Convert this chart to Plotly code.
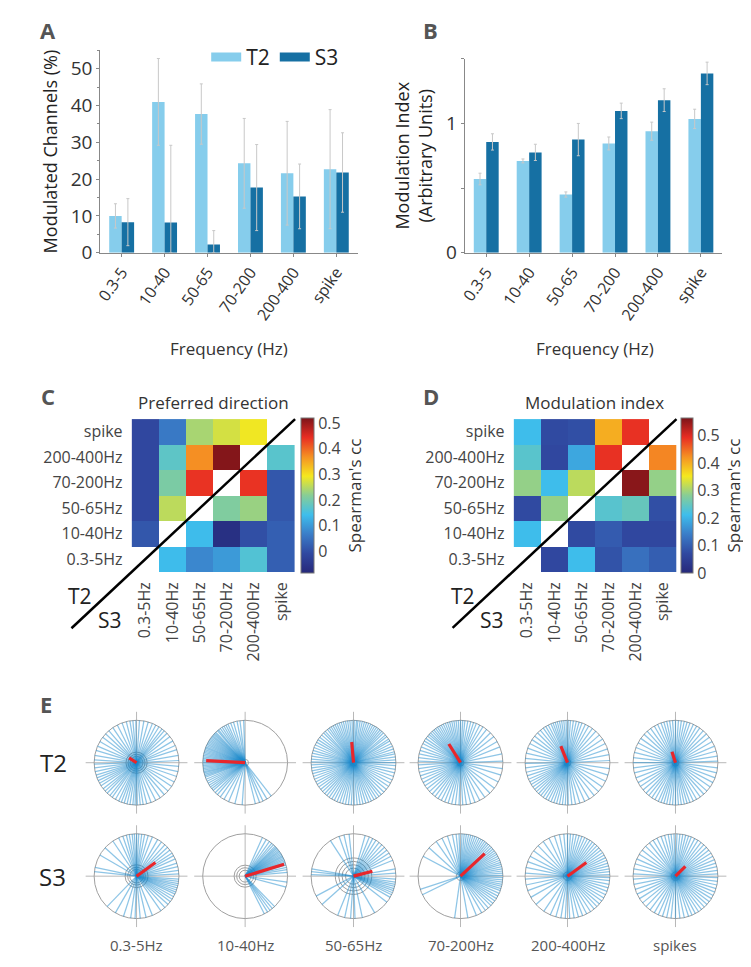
import plotly.graph_objects as go

W, H = 751, 967
def px(x):
    return x / W
def py(y):
    return 1 - y / H

FONT = "Open Sans"
TXT = "#333333"
C_T2 = "#86CDEC"
C_S3 = "#1670A3"
ERR = "#c8c8c8"

# ---------------- data ----------------
freq_labels = ["0.3-5", "10-40", "50-65", "70-200", "200-400", "spike"]

T2_pct = [10.0, 41.0, 37.7, 24.3, 21.6, 22.7]
T2_pct_err = [3.3, 11.8, 8.2, 12.2, 14.1, 16.2]
S3_pct = [8.3, 8.2, 2.2, 17.7, 15.3, 21.8]
S3_pct_err = [6.4, 21.0, 3.8, 11.7, 8.8, 10.8]

T2_mi = [0.57, 0.71, 0.45, 0.845, 0.94, 1.035]
T2_mi_err = [0.045, 0.015, 0.02, 0.05, 0.07, 0.075]
S3_mi = [0.857, 0.776, 0.875, 1.097, 1.18, 1.387]
S3_mi_err = [0.063, 0.063, 0.125, 0.06, 0.088, 0.087]

band_labels = ["0.3-5Hz", "10-40Hz", "50-65Hz", "70-200Hz", "200-400Hz", "spike"]
# rows listed bottom -> top, columns left -> right (None = diagonal)
pd_cc = [
    [None, 0.14, 0.078, 0.10, 0.163, 0.024],
    [0.012, None, 0.14, -0.067, 0.0, 0.024],
    [-0.012, 0.254, None, 0.21, 0.23, 0.012],
    [-0.012, 0.205, 0.44, None, 0.44, 0.012],
    [-0.012, 0.175, 0.37, 0.515, None, 0.17],
    [-0.012, 0.06, 0.24, 0.27, 0.29, None],
]
mi_cc = [
    [None, 0.068, 0.21, 0.085, 0.124, 0.10],
    [0.21, None, 0.073, 0.096, 0.068, 0.068],
    [0.073, 0.29, None, 0.236, 0.25, 0.08],
    [0.29, 0.21, 0.315, None, 0.555, 0.29],
    [0.237, 0.068, 0.186, 0.49, None, 0.43],
    [0.21, 0.073, 0.08, 0.40, 0.49, None],
]

polar_labels = ["0.3-5Hz", "10-40Hz", "50-65Hz", "70-200Hz", "200-400Hz", "spikes"]
# preferred directions of channels (degrees)
T2_angles = [
    [3, 10, 18, 24, 31, 38, 44, 49, 53, 58, 63, 68, 74, 80, 86, 91, 95, 99, 104, 110, 117, 124, 131, 137, 143,
     150, 157, 163, 170, 176, 182, 187, 192, 197, 201, 205, 209, 213, 218, 222, 226, 231, 235, 240, 245, 249,
     253, 257, 261, 265, 268, 271, 275, 279, 284, 290, 297, 304, 311, 318, 326, 333, 341, 348, 355],
    [92, 97, 101, 106, 110, 114, 117, 120, 123, 126, 129, 131, 134, 136, 138, 140, 142, 144, 146, 148, 150, 152,
     154, 156, 158, 160, 162, 164, 166, 168, 170, 172, 174, 176, 178, 180, 182, 184, 186, 188, 190, 192, 194,
     196, 198, 200, 203, 206, 209, 212, 215, 218, 221, 225, 229, 234, 240, 247, 256, 266, 284, 290, 295, 301, 308],
    [0, 4, 8, 12, 15, 19, 23, 27, 31, 34, 38, 41, 45, 48, 51, 54, 57, 60, 63, 66, 69, 72, 75, 78, 81, 84, 86, 89,
     92, 95, 98, 101, 104, 107, 110, 113, 116, 119, 122, 125, 128, 132, 135, 139, 143, 147, 151, 155, 159, 163,
     167, 171, 175, 179, 183, 187, 191, 195, 199, 203, 207, 211, 215, 219, 223, 227, 231, 235, 239, 243, 247,
     251, 255, 259, 263, 267, 271, 275, 279, 283, 287, 291, 295, 299, 303, 307, 311, 316, 321, 326, 331, 336,
     341, 346, 351, 356],
    [2, 12, 22, 30, 38, 45, 52, 58, 63, 68, 72, 76, 80, 84, 87, 90, 93, 96, 99, 102, 105, 108, 111, 114, 117, 120,
     123, 126, 129, 132, 135, 138, 141, 145, 149, 153, 158, 163, 168, 173, 178, 183, 188, 193, 198, 203, 208,
     213, 218, 223, 228, 233, 238, 243, 248, 253, 258, 263, 268, 273, 278, 284, 290, 297, 305, 314, 323, 333, 343, 352],
    [3, 11, 19, 27, 34, 41, 48, 54, 60, 65, 70, 74, 78, 82, 86, 89, 92, 95, 98, 101, 104, 107, 110, 113, 117, 121,
     125, 130, 135, 141, 147, 153, 160, 167, 174, 181, 187, 193, 198, 203, 207, 211, 215, 219, 223, 227, 231,
     235, 239, 243, 247, 251, 255, 259, 263, 267, 271, 276, 281, 287, 294, 301, 309, 317, 325, 334, 343, 352],
    [2, 9, 16, 23, 30, 37, 43, 49, 55, 60, 65, 70, 74, 78, 82, 86, 90, 94, 98, 102, 106, 110, 115, 120, 126, 132,
     138, 145, 152, 159, 166, 173, 180, 187, 194, 201, 208, 214, 220, 226, 231, 236, 241, 246, 250, 254, 258,
     262, 266, 270, 274, 278, 282, 286, 290, 295, 300, 306, 312, 318, 325, 332, 339, 346, 353],
]
S3_angles = [
    [3, 8, 13, 18, 24, 29, 33, 38, 43, 48, 54, 60, 68, 74, 79, 83, 87, 90, 93, 96, 100, 104, 109, 115, 124, 138,
     150, 168, 174, 226, 240, 252, 262, 268, 275, 283, 292, 305, 312, 318, 323, 327, 331, 335, 338, 341, 344,
     347, 350, 353, 356],
    [5, 9, 12, 15, 17, 19, 21, 23, 25, 27, 29, 31, 33, 35, 37, 39, 41, 43, 45, 48, 51, 55, 60, 66, 297, 302, 306,
     310, 314, 345, 352],
    [4, 10, 22, 28, 33, 38, 43, 48, 53, 58, 63, 68, 74, 96, 103, 110, 123, 170, 174, 178, 208, 222, 248, 258, 266,
     272, 282, 300, 322, 330, 334, 337, 340, 343, 346, 349, 352, 356],
    [1, 4, 7, 10, 13, 16, 19, 22, 25, 28, 31, 34, 37, 40, 43, 46, 49, 52, 55, 58, 61, 64, 67, 70, 73, 76, 79, 82,
     85, 88, 92, 96, 101, 108, 116, 125, 138, 152, 198, 206, 262, 280, 292, 300, 306, 311, 316, 320, 324, 328,
     332, 336, 340, 343, 346, 349, 352, 355, 358],
    [2, 6, 10, 14, 18, 22, 26, 30, 34, 38, 42, 46, 50, 54, 58, 62, 66, 70, 74, 78, 82, 86, 90, 95, 101, 108, 116,
     125, 134, 143, 152, 160, 168, 176, 184, 192, 200, 210, 222, 236, 246, 254, 261, 267, 273, 279, 285, 291,
     297, 303, 309, 314, 319, 324, 329, 334, 339, 344, 349, 354, 358],
    [3, 8, 13, 18, 23, 28, 33, 38, 43, 48, 53, 58, 63, 68, 72, 76, 80, 84, 88, 92, 96, 100, 105, 110, 116, 122,
     128, 135, 142, 149, 156, 163, 170, 177, 184, 191, 198, 205, 212, 219, 226, 233, 240, 246, 252, 258, 264,
     270, 276, 282, 288, 293, 298, 303, 308, 313, 318, 323, 328, 333, 338, 343, 348, 353, 358],
]
# population vector: angle (deg), length (fraction of radius)
T2_mean_angle = [147, 177, 95, 122, 112, 108]
T2_mean_len = [0.21, 0.92, 0.49, 0.52, 0.42, 0.27]
S3_mean_angle = [36, 17, 14.5, 43, 36, 45]
S3_mean_len = [0.55, 0.96, 0.46, 0.78, 0.55, 0.33]
# significance circles
T2_circles = [[0.15, 0.2, 0.25], [0.08], [0.08], [0.08], [0.08], [0.08]]
S3_circles = [[0.16, 0.21, 0.27], [0.14, 0.2, 0.26], [0.19, 0.27, 0.35, 0.43], [0.1], [0.1], [0.1]]

# ---------------- figure ----------------
fig = go.Figure()

def minus(vals, errs):
    return [min(v, e) for v, e in zip(vals, errs)]

# Panel A
fig.add_trace(go.Bar(x=freq_labels, y=T2_pct, marker=dict(color=C_T2, line=dict(width=0)),
                     error_y=dict(type="data", array=T2_pct_err, arrayminus=minus(T2_pct, T2_pct_err),
                                  color=ERR, thickness=1, width=1.5),
                     xaxis="x", yaxis="y", showlegend=False))
fig.add_trace(go.Bar(x=freq_labels, y=S3_pct, marker=dict(color=C_S3, line=dict(width=0)),
                     error_y=dict(type="data", array=S3_pct_err, arrayminus=minus(S3_pct, S3_pct_err),
                                  color=ERR, thickness=1, width=1.5),
                     xaxis="x", yaxis="y", showlegend=False))
fig.add_trace(go.Scatter(x=[None], y=[None], mode="lines", line=dict(color=C_T2, width=9), name="T2",
                         xaxis="x", yaxis="y"))
fig.add_trace(go.Scatter(x=[None], y=[None], mode="lines", line=dict(color=C_S3, width=9), name="S3",
                         xaxis="x", yaxis="y"))

# Panel B
fig.add_trace(go.Bar(x=freq_labels, y=T2_mi, marker=dict(color=C_T2, line=dict(width=0)),
                     error_y=dict(type="data", array=T2_mi_err, color=ERR, thickness=1, width=1.5),
                     xaxis="x2", yaxis="y2", showlegend=False))
fig.add_trace(go.Bar(x=freq_labels, y=S3_mi, marker=dict(color=C_S3, line=dict(width=0)),
                     error_y=dict(type="data", array=S3_mi_err, color=ERR, thickness=1, width=1.5),
                     xaxis="x2", yaxis="y2", showlegend=False))

jet = [
    [0.0, "rgb(38,40,122)"],
    [0.125, "rgb(48,72,160)"],
    [0.25, "rgb(58,125,200)"],
    [0.375, "rgb(62,190,236)"],
    [0.5, "rgb(135,205,150)"],
    [0.625, "rgb(245,232,30)"],
    [0.75, "rgb(245,145,35)"],
    [0.875, "rgb(232,45,35)"],
    [1.0, "rgb(125,20,25)"],
]

hm_y0, hm_y1 = 416.7, 571.7
cb_common = dict(
    thickness=13, thicknessmode="pixels", len=hm_y1 - hm_y0, lenmode="pixels",
    y=py((hm_y0 + hm_y1) / 2), yanchor="middle", xanchor="left", xpad=0, ypad=0,
    outlinecolor="#777", outlinewidth=1, ticks="", tickfont=dict(family=FONT, size=16, color="#444"),
    tickvals=[0, 0.1, 0.2, 0.3, 0.4, 0.5], ticktext=["0", "0.1", "0.2", "0.3", "0.4", "0.5"],
    title=dict(text="Spearman's cc", side="right", font=dict(family=FONT, size=17, color=TXT)),
)

fig.add_trace(go.Heatmap(z=pd_cc, x=band_labels, y=band_labels, colorscale=jet, zmin=-0.085, zmax=0.52,
                         xaxis="x3", yaxis="y3", hoverongaps=False,
                         colorbar=dict(cb_common, x=px(289))))
fig.add_trace(go.Heatmap(z=mi_cc, x=band_labels, y=band_labels, colorscale=jet, zmin=0.0, zmax=0.563,
                         xaxis="x4", yaxis="y4", hoverongaps=False,
                         colorbar=dict(cb_common, x=px(672.7), thickness=12)))

# Panel E polar plots
centers_x = [122.7, 232.3, 341.7, 449.7, 557.7, 666.7]
rows = [(765, T2_angles, T2_mean_angle, T2_mean_len, T2_circles),
        (880, S3_angles, S3_mean_angle, S3_mean_len, S3_circles)]
R = 43 * 1.2
layout_polars = {}
k = 0
for (cy, angs, mang, mlen, circ) in rows:
    for j, cx in enumerate(centers_x):
        k += 1
        name = "polar" if k == 1 else f"polar{k}"
        sub = "polar" if k == 1 else f"polar{k}"
        layout_polars[name] = dict(
            domain=dict(x=[px(cx - R), px(cx + R)], y=[py(cy + R), py(cy - R)]),
            bgcolor="rgba(0,0,0,0)",
            radialaxis=dict(range=[0, 1.2], tickvals=circ[j] + [1], showticklabels=False, ticks="",
                            showline=False, gridcolor="#a0a0a0", gridwidth=1),
            angularaxis=dict(tickvals=[0, 90, 180, 270], showticklabels=False, ticks="", showline=False,
                             gridcolor="#b8b8b8", gridwidth=1),
        )
        rr, tt = [], []
        for a in angs[j]:
            rr += [0, 1, None]
            tt += [a, a, None]
        fig.add_trace(go.Scatterpolar(r=rr, theta=tt, mode="lines", subplot=sub, showlegend=False,
                                      line=dict(color="rgba(30,140,205,0.5)", width=1.25), hoverinfo="skip"))
        fig.add_trace(go.Scatterpolar(r=[0, mlen[j]], theta=[mang[j], mang[j]], mode="lines", subplot=sub,
                                      showlegend=False, line=dict(color="#e8262b", width=3.2)))

axis_line = dict(showline=True, linecolor="#888", linewidth=1, showgrid=False, zeroline=False,
                 ticks="outside", ticklen=3, tickcolor="#888")

annotations = []
def ann(text, x, y, size, color=TXT, bold=False, **kw):
    annotations.append(dict(text=f"<b>{text}</b>" if bold else text, x=px(x), y=py(y), xref="paper",
                            yref="paper", showarrow=False, xanchor="center", yanchor="middle",
                            font=dict(family=FONT, size=size, color=color), **kw))

for letter, x, y in [("A", 33, 22), ("B", 419, 22), ("C", 33, 393), ("D", 420, 393), ("E", 31, 705)]:
    ann(letter, x, y, 22, color="#555", bold=True)
ann("Frequency (Hz)", 216, 345, 17)
ann("Frequency (Hz)", 585, 345, 17)
ann("Preferred direction", 200, 400, 17)
ann("Modulation index", 585, 400, 17)
ann("T2", 66, 596, 21, color="#222")
ann("S3", 96, 620, 21, color="#222")
ann("T2", 452, 596, 21, color="#222")
ann("S3", 481, 620, 21, color="#222")
ann("T2", 39, 765, 24, color="#222")
ann("S3", 38, 880, 24, color="#222")
for lab, cx in zip(polar_labels, centers_x):
    ann(lab, cx, 950, 15, color="#555")

shapes = [
    dict(type="line", xref="paper", yref="paper", x0=px(57), y0=py(628.7), x1=px(282.7), y1=py(416.7),
         line=dict(color="black", width=2.5)),
    dict(type="line", xref="paper", yref="paper", x0=px(441.7), y0=py(628.3), x1=px(667.7), y1=py(416.7),
         line=dict(color="black", width=2.5)),
]

hm_x = dict(showline=False, showgrid=False, zeroline=False, ticks="", tickangle=-90,
            tickfont=dict(family=FONT, size=16, color="#444"), ticklabelstandoff=6)
hm_y = dict(showline=False, showgrid=False, zeroline=False, ticks="",
            tickfont=dict(family=FONT, size=16, color="#444"), ticklabelstandoff=8)

fig.update_layout(
    width=W, height=H, margin=dict(l=0, r=0, t=0, b=0),
    paper_bgcolor="white", plot_bgcolor="white",
    font=dict(family=FONT, color=TXT),
    barmode="group", bargap=0.42, bargroupgap=0.0,
    showlegend=True,
    legend=dict(orientation="h", x=px(193), y=py(50), xanchor="left", yanchor="middle",
                font=dict(family=FONT, size=21, color="#222"), bgcolor="rgba(0,0,0,0)",
                itemwidth=30, traceorder="normal"),
    xaxis=dict(axis_line, domain=[px(86), px(346)], anchor="y", tickangle=-55,
               tickfont=dict(family=FONT, size=16, color=TXT)),
    yaxis=dict(axis_line, domain=[py(248), py(43)], anchor="x", range=[0, 55], tickvals=[0, 10, 20, 30, 40, 50],
               minor=dict(tickvals=[5, 15, 25, 35, 45, 55], ticks="outside", ticklen=2, tickcolor="#888"),
               tickfont=dict(family=FONT, size=19, color=TXT),
               title=dict(text="Modulated Channels (%)", font=dict(family=FONT, size=18, color="#222"), standoff=8)),
    xaxis2=dict(axis_line, domain=[px(454), px(714)], anchor="y2", tickangle=-55,
                tickfont=dict(family=FONT, size=16, color=TXT)),
    yaxis2=dict(axis_line, domain=[py(248), py(51.5)], anchor="x2", range=[0, 1.5], tickvals=[0, 0.5, 1, 1.5],
                ticktext=["0", "", "1", ""], tickfont=dict(family=FONT, size=19, color=TXT),
                title=dict(text="Modulation Index<br>(Arbitrary Units)", font=dict(family=FONT, size=18, color="#222"),
                           standoff=8)),
    xaxis3=dict(hm_x, domain=[px(117.7), px(282.7)], anchor="y3"),
    yaxis3=dict(hm_y, domain=[py(hm_y1), py(hm_y0)], anchor="x3"),
    xaxis4=dict(hm_x, domain=[px(503.3), px(667.7)], anchor="y4"),
    yaxis4=dict(hm_y, domain=[py(hm_y1), py(hm_y0)], anchor="x4"),
    annotations=annotations,
    shapes=shapes,
    **layout_polars,
)

fig.write_html("out.html")
